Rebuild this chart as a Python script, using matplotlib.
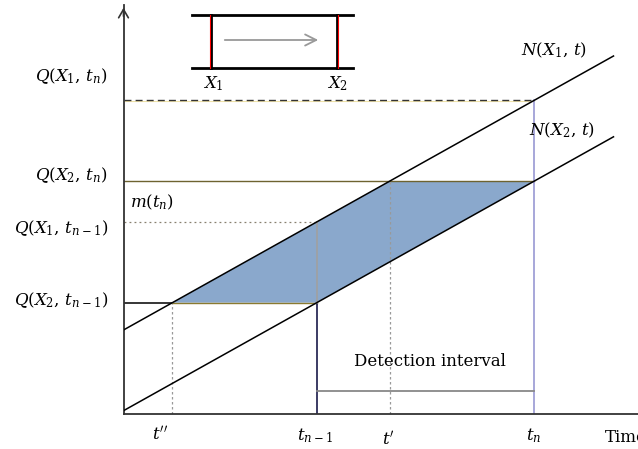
import matplotlib.pyplot as plt

plt.rcParams['mathtext.fontset'] = 'dejavuserif'
plt.rcParams['font.family'] = 'DejaVu Serif'

# time instants (arbitrary units along the time axis)
t_dd = 48.8      # t''
t_prev = 193.2   # t_{n-1}
t_dash = 266.5   # t'
t_n = 410.8      # t_n
t_end = 490      # where the count curves stop

# cumulative counts
n1_start, n1_stop = 84, 358     # N(X1, t) at t=0 and t=t_end
n2_start, n2_stop = 3.3, 277.2  # N(X2, t) at t=0 and t=t_end
q_x1_tn = 314
q_x2_tn = 233
q_x1_tprev = 192.5
q_x2_tprev = 111.3
detect_level = 23

y_labels = [r'$Q(X_1,\, t_n)$', r'$Q(X_2,\, t_n)$', r'$Q(X_1,\, t_{n-1})$', r'$Q(X_2,\, t_{n-1})$']
y_label_pos = [338, 239, 186, 114]
x_labels = [r"$t^{\prime\prime}$", r'$t_{n-1}$', r"$t^{\prime}$", r'$t_n$']
x_label_pos = [36.5, 191.5, 264.5, 410.5]
x_label_h = [-21, -22, -26, -22]

fs = 12

fig = plt.figure(figsize=(6.38, 4.49), dpi=100)
ax = fig.add_axes([123.5 / 638, 35 / 449, 514.5 / 638, 409 / 449])
ax.set_xlim(0, 514.5)
ax.set_ylim(0, 409)
ax.set_xticks([])
ax.set_yticks([])
for s in ['top', 'right']:
    ax.spines[s].set_visible(False)
for s in ['left', 'bottom']:
    ax.spines[s].set_color('#333333')
    ax.spines[s].set_linewidth(1.3)
ax.annotate('', xy=(0, 409), xytext=(0, 395),
            arrowprops=dict(arrowstyle='->,head_length=0.6,head_width=0.35', color='#333333', lw=1.2),
            annotation_clip=False)

# shaded region between the curves
ax.fill([t_dd, t_dash, t_n, t_prev], [q_x2_tprev, q_x2_tn, q_x2_tn, q_x2_tprev],
        facecolor='#8aa8cc', edgecolor='none', lw=0, zorder=1)

# horizontal reference levels
ax.plot([0, t_n], [q_x1_tn, q_x1_tn], color='#333333', lw=1, ls=(0, (5, 3)), zorder=2)
ax.plot([0, t_n], [q_x1_tn - 1, q_x1_tn - 1], color='#efe2a8', lw=0.8, zorder=1)
ax.plot([0, t_n], [q_x2_tn, q_x2_tn], color='#6e6330', lw=1, zorder=2)
ax.plot([0, t_prev], [q_x1_tprev, q_x1_tprev], color='#888070', lw=0.9, ls=(0, (1.5, 2.5)), zorder=2)
ax.plot([0, t_dd], [q_x2_tprev, q_x2_tprev], color='black', lw=1.1, zorder=2)
ax.plot([t_dd, t_prev], [q_x2_tprev, q_x2_tprev], color='#8a7a30', lw=1, zorder=2)

# vertical guides
ax.plot([t_dd, t_dd], [0, q_x2_tprev], color='#999999', lw=0.9, ls=(0, (2, 2)), zorder=2)
ax.plot([t_dash, t_dash], [0, q_x2_tn], color='#999999', lw=0.9, ls=(0, (2, 2)), zorder=2)
ax.plot([t_prev, t_prev], [0, q_x2_tprev], color='#1a1a4a', lw=1.2, zorder=2)
ax.plot([t_prev, t_prev], [q_x2_tprev, q_x1_tprev], color='#a0a0a0', lw=1.2, zorder=2)
ax.plot([t_n, t_n], [0, q_x1_tn], color='#8f8fd0', lw=1.1, zorder=2)

# cumulative count curves
ax.plot([0, t_end], [n1_start, n1_stop], color='black', lw=1.1, zorder=3)
ax.plot([0, t_end], [n2_start, n2_stop], color='black', lw=1.1, zorder=3)
ax.text(463.5, 364, r'$N(X_1,\, t)$', fontsize=fs, ha='right', va='center')
ax.text(471.5, 284, r'$N(X_2,\, t)$', fontsize=fs, ha='right', va='center')

# detection interval
ax.plot([t_prev, t_n], [detect_level, detect_level], color='#888888', lw=1.3, zorder=2)
ax.text(306.5, 52, 'Detection interval', fontsize=fs, ha='center', va='center')
ax.text(6.5, 212, r'$m(t_n)$', fontsize=fs, ha='left', va='center')

for lab, yp in zip(y_labels, y_label_pos):
    ax.text(-15.5, yp, lab, fontsize=fs, ha='right', va='center', clip_on=False)
for lab, xp, yp in zip(x_labels, x_label_pos, x_label_h):
    ax.text(xp, yp, lab, fontsize=fs, ha='center', va='center', clip_on=False)
ax.text(481.5, -23, 'Time', fontsize=fs, ha='left', va='center', clip_on=False)

# inset sketch of the road section
ax.plot([68.5, 229.5], [399, 399], color='black', lw=2)
ax.plot([68.5, 229.5], [346, 346], color='black', lw=2)
ax.plot([87.5, 87.5], [346, 399], color='black', lw=2)
ax.plot([213.5, 213.5], [346, 399], color='black', lw=2)
ax.plot([86.3, 86.3], [346, 399], color='red', lw=0.8)
ax.plot([214.7, 214.7], [346, 399], color='red', lw=0.8)
ax.annotate('', xy=(197.5, 374), xytext=(98.5, 374),
            arrowprops=dict(arrowstyle='->,head_length=0.8,head_width=0.4', color='#999999', lw=1.3))
ax.text(89.5, 330, r'$X_1$', fontsize=fs, ha='center', va='center')
ax.text(214.5, 330, r'$X_2$', fontsize=fs, ha='center', va='center')

fig.savefig('out.png', dpi=100)
